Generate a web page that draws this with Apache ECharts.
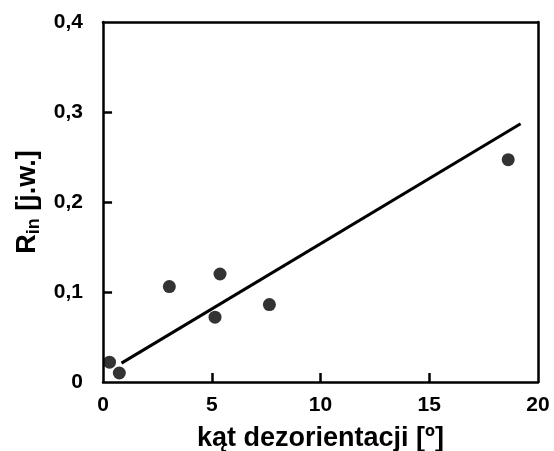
<!DOCTYPE html>
<html>
<head>
<meta charset="utf-8">
<script src="https://cdn.jsdelivr.net/npm/echarts@6/dist/echarts.min.js"></script>
<style>
  html, body { margin: 0; padding: 0; background: #fff; }
  #chart { width: 554px; height: 451px; }
</style>
</head>
<body>
<div id="chart"></div>
<script>
// Measured points: misorientation angle [deg] vs R_in [a.u.]
const angle = [0.3, 0.75, 3.05, 5.15, 5.38, 7.65, 18.63];
const rin = [0.022, 0.01, 0.106, 0.072, 0.12, 0.086, 0.247];

// Fitted trend line end points
const fitX = [0.85, 19.2];
const fitY = [0.021, 0.287];

// Axis ticks
const xTicks = [0, 5, 10, 15, 20];
const yTicks = [0, 0.1, 0.2, 0.3, 0.4];

const font = 'Liberation Sans, Arial, Helvetica, sans-serif';
const chart = echarts.init(document.getElementById('chart'));

const edge = () => ({ show: true, onZero: false, lineStyle: { color: '#000', width: 2.5 } });
const noGrid = () => ({ show: true, lineStyle: { color: 'rgba(0,0,0,0)' } });

// Inward tick marks, expressed in data units of each axis
const xMin = xTicks[0], xMax = xTicks[xTicks.length - 1];
const yMin = yTicks[0], yMax = yTicks[yTicks.length - 1];
const tickLenY = (yMax - yMin) / 40;   // vertical tick on the x axis
const tickLenX = (xMax - xMin) / 48;   // horizontal tick on the y axis
const tickSegments = [];
xTicks.slice(1, -1).forEach(v => tickSegments.push([{ coord: [v, yMin] }, { coord: [v, yMin + tickLenY] }]));
yTicks.slice(1, -1).forEach(v => tickSegments.push([{ coord: [xMin, v] }, { coord: [xMin + tickLenX, v] }]));

chart.setOption({
  animation: false,
  backgroundColor: '#fff',
  grid: { left: 103, top: 22, width: 435, height: 360, outerBoundsMode: 'none' },
  xAxis: [
    {
      type: 'value',
      min: xMin, max: xMax, interval: 5,
      name: 'kąt dezorientacji [º]',
      nameLocation: 'middle', nameGap: 43,
      nameTextStyle: { fontFamily: font, fontWeight: 'bold', fontSize: 27, color: '#000' },
      axisLine: edge(),
      axisTick: { show: false },
      axisLabel: { margin: 13, fontFamily: font, fontWeight: 'bold', fontSize: 21, color: '#000' },
      splitLine: noGrid()
    },
    {
      // top frame edge
      type: 'value', position: 'top',
      min: xMin, max: xMax, interval: 5,
      axisLine: edge(),
      axisTick: { show: false }, axisLabel: { show: false }, splitLine: { show: false }
    }
  ],
  yAxis: [
    {
      type: 'value',
      min: yMin, max: yMax, interval: 0.1,
      name: '{r|R}{s|in}{r| [j.w.]}',
      nameLocation: 'middle', nameGap: 60, nameRotate: 90,
      nameTextStyle: {
        color: '#000',
        rich: {
          r: { fontFamily: font, fontWeight: 'bold', fontSize: 27, color: '#000' },
          s: { fontFamily: font, fontWeight: 'bold', fontSize: 18, color: '#000', verticalAlign: 'bottom', padding: [13, 0, 0, 0] }
        }
      },
      axisLine: edge(),
      axisTick: { show: false },
      axisLabel: {
        margin: 20, fontFamily: font, fontWeight: 'bold', fontSize: 21, color: '#000',
        formatter: v => v === 0 ? '0' : v.toFixed(1).replace('.', ',')
      },
      splitLine: noGrid()
    },
    {
      // right frame edge
      type: 'value', position: 'right',
      min: yMin, max: yMax, interval: 0.1,
      axisLine: edge(),
      axisTick: { show: false }, axisLabel: { show: false }, splitLine: { show: false }
    }
  ],
  series: [
    {
      type: 'line',
      data: fitX.map((x, i) => [x, fitY[i]]),
      symbol: 'none',
      lineStyle: { color: '#000', width: 3 },
      z: 2,
      markLine: {
        silent: true,
        symbol: ['none', 'none'],
        label: { show: false },
        lineStyle: { color: '#000', width: 2.5, type: 'solid' },
        data: tickSegments
      }
    },
    {
      type: 'scatter',
      data: angle.map((x, i) => [x, rin[i]]),
      symbol: 'circle', symbolSize: 13,
      itemStyle: { color: '#000' },
      z: 3
    }
  ]
});
</script>
</body>
</html>
